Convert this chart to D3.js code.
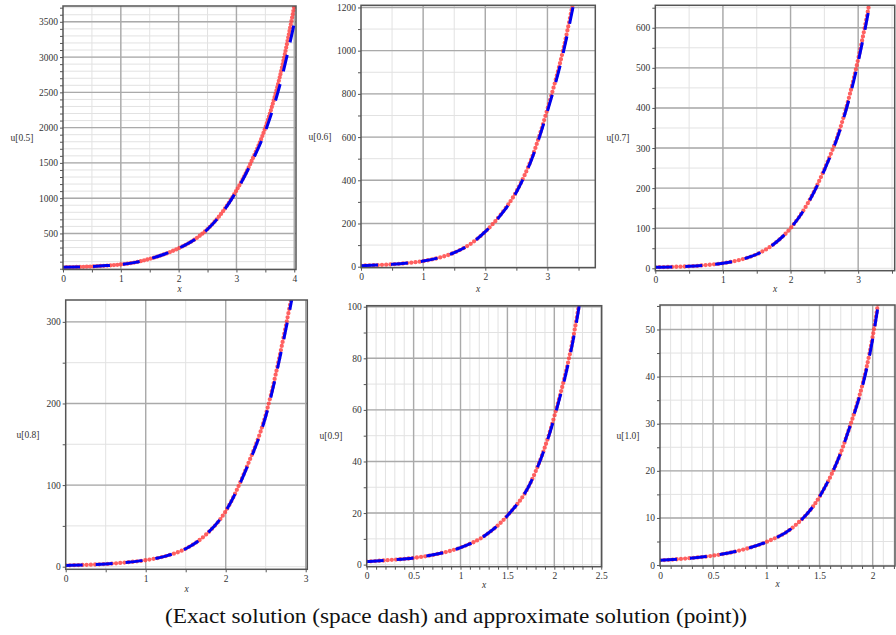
<!DOCTYPE html>
<html>
<head>
<meta charset="utf-8">
<script src="https://cdn.jsdelivr.net/npm/d3@7"></script>
<style>
  body { margin: 0; background: #fff; }
  svg { display: block; }
</style>
</head>
<body>
<svg id="chart" width="896" height="635"></svg>
<script>
// ---- data: exact and approximate solution u(x) for each time level ----
const timeLabels = ["u[0.5]", "u[0.6]", "u[0.7]", "u[0.8]", "u[0.9]", "u[1.0]"];

const xs1 = [0, 0.25, 0.5, 0.75, 1, 1.25, 1.5, 1.75, 2, 2.25, 2.5, 2.75, 3, 3.25, 3.5, 3.75, 4];
const exact1 = [20, 25, 32, 44, 60, 90, 140, 205, 290, 400, 560, 790, 1100, 1490, 1950, 2600, 3480];
const approx1 = [20, 25, 32, 44, 60, 90, 140, 205, 290, 400, 562, 795, 1110, 1505, 2000, 2720, 3720];

const xs2 = [0, 0.25, 0.5, 0.75, 1, 1.25, 1.5, 1.75, 2, 2.25, 2.5, 2.75, 3, 3.25, 3.5];
const exact2 = [5, 7.5, 11, 17, 26, 41, 65, 103, 162, 240, 345, 500, 720, 985, 1330];
const approx2 = [5, 7.5, 11, 17, 26, 41, 65, 103, 162, 242, 348, 505, 730, 1000, 1355];

const xs3 = [0, 0.25, 0.5, 0.75, 1, 1.25, 1.5, 1.75, 2, 2.25, 2.5, 2.75, 3, 3.25, 3.5];
const exact3 = [2.5, 3.5, 5, 8, 12.5, 21, 35, 60, 100, 160, 245, 355, 515, 735, 1030];
const approx3 = [2.5, 3.5, 5, 8, 12.5, 21, 35, 60, 100, 161, 247, 358, 522, 745, 1045];

const xs4 = [0, 0.25, 0.5, 0.75, 1, 1.25, 1.5, 1.75, 2, 2.25, 2.5, 2.75, 3];
const exact4 = [1.6, 2.3, 3.3, 5.2, 8, 13, 22, 39, 68, 118, 184, 290, 420];
const approx4 = [1.6, 2.3, 3.3, 5.2, 8, 13, 22, 39, 68, 119, 186, 294, 428];

const xs5 = [0, 0.25, 0.5, 0.75, 1, 1.25, 1.5, 1.75, 2, 2.25, 2.5];
const exact5 = [1.2, 1.8, 2.6, 4.1, 6.6, 11, 19, 32, 57, 97, 165];
const approx5 = [1.2, 1.8, 2.6, 4.1, 6.6, 11, 19, 32, 57.5, 98, 168];

const xs6 = [0, 0.25, 0.5, 0.75, 1, 1.25, 1.5, 1.75, 2, 2.25];
const exact6 = [1.0, 1.4, 2.0, 3.1, 4.9, 8.0, 14.5, 27, 48, 90];
const approx6 = [1.0, 1.4, 2.0, 3.1, 4.9, 8.0, 14.5, 27, 48.5, 91];

// labelled ticks
const xTicks1 = [0, 1, 2, 3, 4];
const yTicks1 = [500, 1000, 1500, 2000, 2500, 3000, 3500];
const xTicks2 = [0, 1, 2, 3];
const yTicks2 = [0, 200, 400, 600, 800, 1000, 1200];
const xTicks3 = [0, 1, 2, 3];
const yTicks3 = [0, 100, 200, 300, 400, 500, 600];
const xTicks4 = [0, 1, 2, 3];
const yTicks4 = [0, 100, 200, 300];
const xTicks5 = [0, 0.5, 1, 1.5, 2, 2.5];
const yTicks5 = [0, 20, 40, 60, 80, 100];
const xTicks6 = [0, 0.5, 1, 1.5, 2];
const yTicks6 = [0, 10, 20, 30, 40, 50];

const series = [
  { xs: xs1, exact: exact1, approx: approx1, xTicks: xTicks1, yTicks: yTicks1 },
  { xs: xs2, exact: exact2, approx: approx2, xTicks: xTicks2, yTicks: yTicks2 },
  { xs: xs3, exact: exact3, approx: approx3, xTicks: xTicks3, yTicks: yTicks3 },
  { xs: xs4, exact: exact4, approx: approx4, xTicks: xTicks4, yTicks: yTicks4 },
  { xs: xs5, exact: exact5, approx: approx5, xTicks: xTicks5, yTicks: yTicks5 },
  { xs: xs6, exact: exact6, approx: approx6, xTicks: xTicks6, yTicks: yTicks6 }
];

// ---- panel geometry (pixels) and view windows ----
const layout = [
  { left: 63,  right: 296,   top: 6,     bottom: 269.5, xMax: 4.03, yMin: -11,  yMax: 3724, xMinor: 0.5, yMinor: 100, labX: 22,  xLabY: 292, dot: 3.4 },
  { left: 361, right: 595.3, top: 5.3,   bottom: 267.7, xMax: 3.77, yMin: -4.6, yMax: 1210, xMinor: 0.5, yMinor: 100, labX: 320, xLabY: 292, dot: 4.2 },
  { left: 655.3, right: 894.7, top: 5.3, bottom: 270.7, xMax: 3.54, yMin: -6,   yMax: 656,  xMinor: 0.5, yMinor: 50,  labX: 618, xLabY: 292, dot: 4.2 },
  { left: 65.7, right: 307.3, top: 300,  bottom: 569.3, xMax: 3.02, yMin: -3.2, yMax: 326.8, xMinor: 0.5, yMinor: 50, labX: 28,  xLabY: 592, dot: 4.2 },
  { left: 366.7, right: 601.7, top: 305.7, bottom: 566.7, xMax: 2.505, yMin: -0.8, yMax: 100.4, xMinor: 0.1, yMinor: 10, labX: 331, xLabY: 588, dot: 4.2 },
  { left: 660, right: 895,   top: 305,   bottom: 566,   xMax: 2.21, yMin: -0.2, yMax: 55.2, xMinor: 0.1, yMinor: 5,   labX: 628, xLabY: 587, dot: 4.2 }
];

const svg = d3.select("#chart");
const serif = "'Liberation Serif', 'Times New Roman', serif";

series.forEach((s, i) => {
  const L = layout[i];
  const x = d3.scaleLinear().domain([0, L.xMax]).range([L.left, L.right]);
  const y = d3.scaleLinear().domain([L.yMin, L.yMax]).range([L.bottom, L.top]);
  const g = svg.append("g");

  const xMinorVals = d3.range(0, L.xMax + 1e-9, L.xMinor).filter(v => v > 0);
  const yMinorVals = d3.range(0, L.yMax + 1e-9, L.yMinor).filter(v => v > L.yMin);

  // minor grid
  g.append("g").selectAll("line").data(xMinorVals).join("line")
    .attr("x1", d => x(d)).attr("x2", d => x(d))
    .attr("y1", L.top).attr("y2", L.bottom)
    .attr("stroke", "#e2e2e2").attr("stroke-width", 1);
  g.append("g").selectAll("line").data(yMinorVals).join("line")
    .attr("y1", d => y(d)).attr("y2", d => y(d))
    .attr("x1", L.left).attr("x2", L.right)
    .attr("stroke", "#e2e2e2").attr("stroke-width", 1);

  // major grid at labelled ticks
  g.append("g").selectAll("line").data(s.xTicks.filter(v => v > 0 && v < L.xMax)).join("line")
    .attr("x1", d => x(d)).attr("x2", d => x(d))
    .attr("y1", L.top).attr("y2", L.bottom)
    .attr("stroke", "#aaaaaa").attr("stroke-width", 1.4);
  g.append("g").selectAll("line").data(s.yTicks.filter(v => v > 0)).join("line")
    .attr("y1", d => y(d)).attr("y2", d => y(d))
    .attr("x1", L.left).attr("x2", L.right)
    .attr("stroke", "#aaaaaa").attr("stroke-width", 1.4);

  // curves
  const clipId = "clip" + i;
  svg.append("clipPath").attr("id", clipId).append("rect")
    .attr("x", L.left).attr("y", L.top)
    .attr("width", L.right - L.left).attr("height", L.bottom - L.top);

  const line = d3.line().x(d => x(d[0])).y(d => y(d[1])).curve(d3.curveMonotoneX);

  // approximate solution: points
  g.append("path").datum(d3.zip(s.xs, s.approx))
    .attr("d", line).attr("clip-path", `url(#${clipId})`)
    .attr("fill", "none").attr("stroke", "#ff3a3a").attr("stroke-opacity", 0.8)
    .attr("stroke-width", 4.3).attr("stroke-linecap", "round")
    .attr("stroke-dasharray", `0 ${L.dot}`);

  // exact solution: space dash
  g.append("path").datum(d3.zip(s.xs, s.exact))
    .attr("d", line).attr("clip-path", `url(#${clipId})`)
    .attr("fill", "none").attr("stroke", "#0000f0")
    .attr("stroke-width", 3).attr("stroke-dasharray", "17 13");

  // frame
  g.append("rect")
    .attr("x", L.left).attr("y", L.top)
    .attr("width", L.right - L.left).attr("height", L.bottom - L.top)
    .attr("fill", "none").attr("stroke", "#555").attr("stroke-width", 1.5);

  // small tick marks
  g.append("g").attr("transform", `translate(0,${L.bottom})`)
    .call(d3.axisBottom(x).tickValues(xMinorVals.concat([0])).tickSize(3).tickFormat(""))
    .call(a => a.select(".domain").remove())
    .call(a => a.selectAll("line").attr("stroke", "#555"));
  g.append("g").attr("transform", `translate(${L.left},0)`)
    .call(d3.axisLeft(y).tickValues(yMinorVals).tickSize(3).tickFormat(""))
    .call(a => a.select(".domain").remove())
    .call(a => a.selectAll("line").attr("stroke", "#555"));

  // tick labels
  g.append("g").attr("transform", `translate(0,${L.bottom})`)
    .call(d3.axisBottom(x).tickValues(s.xTicks).tickSize(0).tickPadding(6).tickFormat(d3.format("~g")))
    .call(a => a.select(".domain").remove())
    .call(a => a.selectAll("text").attr("font-family", serif).attr("font-size", 9.5).attr("fill", "#333"));
  g.append("g").attr("transform", `translate(${L.left},0)`)
    .call(d3.axisLeft(y).tickValues(s.yTicks).tickSize(0).tickPadding(5).tickFormat(d3.format("~g")))
    .call(a => a.select(".domain").remove())
    .call(a => a.selectAll("text").attr("font-family", serif).attr("font-size", 9.5).attr("fill", "#333"));

  // axis titles
  g.append("text")
    .attr("x", L.labX).attr("y", (L.top + L.bottom) / 2 + 3)
    .attr("text-anchor", "middle")
    .attr("font-family", serif).attr("font-size", 9.5).attr("fill", "#333")
    .text(timeLabels[i]);
  g.append("text")
    .attr("x", (L.left + L.right) / 2).attr("y", L.xLabY)
    .attr("text-anchor", "middle")
    .attr("font-family", serif).attr("font-style", "italic")
    .attr("font-size", 9.5).attr("fill", "#333")
    .text("x");
});

// caption
svg.append("text")
  .attr("x", 456).attr("y", 623)
  .attr("text-anchor", "middle")
  .attr("font-family", serif).attr("font-size", 21).attr("fill", "#111")
  .attr("textLength", 582).attr("lengthAdjust", "spacingAndGlyphs")
  .text("(Exact solution (space dash) and approximate solution (point))");
</script>
</body>
</html>
